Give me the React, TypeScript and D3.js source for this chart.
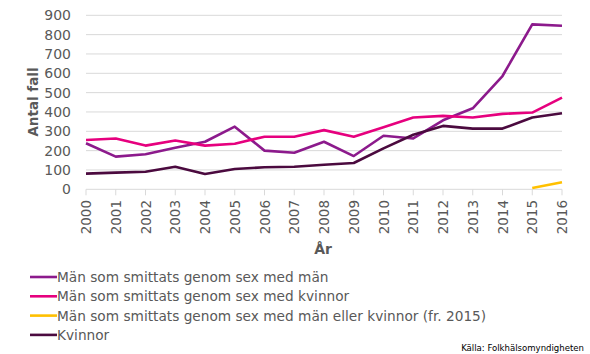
import { useEffect, useRef } from 'react';
import * as d3 from 'd3';

const years = [2000, 2001, 2002, 2003, 2004, 2005, 2006, 2007, 2008, 2009, 2010, 2011, 2012, 2013, 2014, 2015, 2016];
const yTicks = [0, 100, 200, 300, 400, 500, 600, 700, 800, 900];

const msmValues = [238, 169, 181, 215, 246, 324, 200, 189, 246, 172, 277, 263, 357, 419, 586, 853, 846];
const mskValues = [255, 263, 226, 252, 226, 236, 272, 272, 306, 272, 321, 371, 380, 371, 390, 397, 474];
const msmkValues = [null, null, null, null, null, null, null, null, null, null, null, null, null, null, null, 7, 36];
const kvinnorValues = [81, 86, 91, 117, 79, 105, 114, 117, 127, 136, 212, 282, 328, 314, 314, 371, 393];

const seriesNames = [
  'Män som smittats genom sex med män',
  'Män som smittats genom sex med kvinnor',
  'Män som smittats genom sex med män eller kvinnor (fr. 2015)',
  'Kvinnor',
];
const seriesColors = ['#8c1a8c', '#e6007e', '#ffc000', '#4b0a3f'];

const FONT = '"DejaVu Sans", Verdana, sans-serif';

export default function App() {
  const ref = useRef<SVGSVGElement>(null);

  useEffect(() => {
    if (!ref.current) return;
    const svg = d3.select(ref.current);
    svg.selectAll('*').remove();

    const x = d3.scalePoint<number>().domain(years).range([86, 562]);
    const y = d3.scaleLinear().domain([0, 900]).range([189.3, 15.3]);

    // grid
    svg.append('g')
      .selectAll('line')
      .data(yTicks)
      .join('line')
      .attr('x1', 86)
      .attr('x2', 562)
      .attr('y1', (d) => y(d))
      .attr('y2', (d) => y(d))
      .attr('stroke', '#d9d9d9')
      .attr('stroke-width', 1);

    // x tick marks
    svg.append('g')
      .selectAll('line')
      .data(years)
      .join('line')
      .attr('x1', (d) => x(d)!)
      .attr('x2', (d) => x(d)!)
      .attr('y1', y(0))
      .attr('y2', y(0) + 6)
      .attr('stroke', '#d9d9d9');

    // y tick labels
    svg.append('g')
      .selectAll('text')
      .data(yTicks)
      .join('text')
      .attr('x', 71)
      .attr('y', (d) => y(d))
      .attr('dy', '0.36em')
      .attr('text-anchor', 'end')
      .attr('font-family', FONT)
      .attr('font-size', 14)
      .attr('fill', '#595959')
      .text((d) => d);

    // x tick labels
    svg.append('g')
      .selectAll('text')
      .data(years)
      .join('text')
      .attr('transform', (d) => `translate(${x(d)! + 5},200) rotate(-90)`)
      .attr('text-anchor', 'end')
      .attr('font-family', FONT)
      .attr('font-size', 13.5)
      .attr('fill', '#595959')
      .text((d) => d);

    // axis titles
    svg.append('text')
      .attr('transform', 'translate(38,102) rotate(-90)')
      .attr('text-anchor', 'middle')
      .attr('font-family', FONT)
      .attr('font-weight', 'bold')
      .attr('font-size', 13.5)
      .attr('fill', '#595959')
      .text('Antal fall');

    svg.append('text')
      .attr('x', 323)
      .attr('y', 254)
      .attr('text-anchor', 'middle')
      .attr('font-family', FONT)
      .attr('font-weight', 'bold')
      .attr('font-size', 14)
      .attr('fill', '#595959')
      .text('År');

    // lines
    const allSeries = [msmValues, mskValues, msmkValues, kvinnorValues];
    const line = d3.line<number | null>()
      .defined((d) => d !== null)
      .x((_, i) => x(years[i])!)
      .y((d) => y(d as number));

    allSeries.forEach((vals, i) => {
      svg.append('path')
        .datum(vals)
        .attr('d', line)
        .attr('fill', 'none')
        .attr('stroke', seriesColors[i])
        .attr('stroke-width', 2.6)
        .attr('stroke-linejoin', 'round');
    });

    // legend
    const legend = svg.append('g');
    seriesNames.forEach((name, i) => {
      const ly = 277 + i * 19.3;
      legend.append('line')
        .attr('x1', 30)
        .attr('x2', 57)
        .attr('y1', ly)
        .attr('y2', ly)
        .attr('stroke', seriesColors[i])
        .attr('stroke-width', 2.6);
      legend.append('text')
        .attr('x', 57)
        .attr('y', ly)
        .attr('dy', '0.36em')
        .attr('font-family', FONT)
        .attr('font-size', 13.7)
        .attr('fill', '#595959')
        .text(name);
    });

    svg.append('text')
      .attr('x', 584)
      .attr('y', 351)
      .attr('text-anchor', 'end')
      .attr('font-family', '"DejaVu Sans Condensed", "DejaVu Sans", sans-serif')
      .attr('font-stretch', 'condensed')
      .attr('font-size', 9.5)
      .attr('fill', '#000')
      .text('Källa:  Folkhälsomyndigheten');
  }, []);

  return (
    <svg
      ref={ref}
      width={590}
      height={354}
      style={{ position: 'absolute', left: 0, top: 0, background: '#fff' }}
    />
  );
}
